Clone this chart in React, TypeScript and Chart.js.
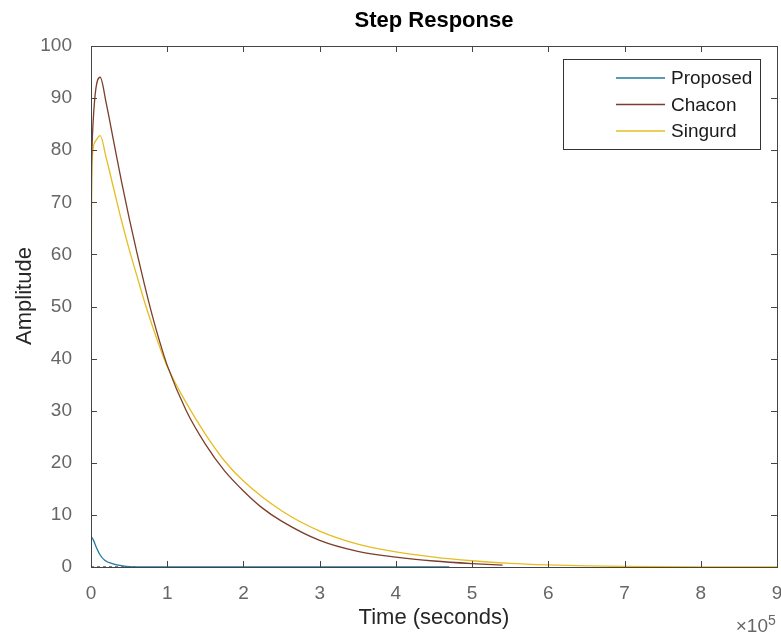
import React, { useEffect, useRef } from "react";
import { Chart, registerables } from "chart.js";

Chart.register(...registerables);

// time in units of 10^5 seconds
const proposedT = [0, 0.03, 0.075, 0.12, 0.18, 0.29, 0.42, 0.5, 0.6, 1, 2, 3, 4, 4.7];
const proposedV = [5.9, 5.2, 3.6, 2.3, 1.3, 0.6, 0.2, 0.05, 0, 0, 0, 0, 0, 0];

const chaconT = [0, 0.005, 0.012, 0.05, 0.12, 0.2, 0.3, 0.4, 0.5, 0.6, 0.7, 0.8, 0.9, 1.0, 1.25, 1.5, 1.75, 2.0, 2.25, 2.5, 3.0, 3.5, 4.0, 4.5, 5.0, 5.4];
const chaconV = [0, 70, 80, 90, 94, 89, 81.5, 74, 67, 60.5, 54.3, 48.5, 43.3, 38.7, 30, 23.6, 18.5, 14.6, 11.3, 8.8, 5.1, 3.0, 1.9, 1.15, 0.65, 0.35];

const singurdT = [0, 0.005, 0.015, 0.05, 0.12, 0.2, 0.3, 0.4, 0.5, 0.62, 0.7, 0.8, 0.9, 1.0, 1.25, 1.5, 1.75, 2.0, 2.5, 3.0, 3.5, 4.0, 4.5, 5.0, 5.5, 6.0, 6.5, 7.0, 8.0, 9.0];
const singurdV = [0, 60, 78, 81.5, 82.8, 78.5, 72.5, 66.5, 61, 55, 51, 46.5, 42.3, 38.5, 31.5, 25.5, 20.4, 16.5, 10.8, 6.9, 4.4, 2.9, 1.9, 1.2, 0.7, 0.4, 0.2, 0.1, 0.02, 0];

const steadyT = [0, 0.58];
const steadyV = [0, 0];

const seriesLabels = ["Proposed", "Chacon", "Singurd"];
const xTickValues = [0, 1, 2, 3, 4, 5, 6, 7, 8, 9];
const yTickValues = [0, 10, 20, 30, 40, 50, 60, 70, 80, 90, 100];

const FONT = "'Liberation Sans', Arial, Helvetica, sans-serif";

const toPts = (t: number[], v: number[]) => t.map((x, i) => ({ x, y: v[i] }));

const framePlugin = {
  id: "frame",
  afterDraw(chart: any) {
    const { ctx, chartArea } = chart;
    const { left, right, top, bottom } = chartArea;
    const xs = chart.scales.x;
    const ys = chart.scales.y;
    ctx.save();
    ctx.strokeStyle = "#444444";
    ctx.lineWidth = 1;
    ctx.strokeRect(Math.round(left) + 0.5, Math.round(top) + 0.5, Math.round(right - left), Math.round(bottom - top));
    const tl = 6;
    ctx.beginPath();
    xTickValues.forEach((v) => {
      const px = Math.round(xs.getPixelForValue(v)) + 0.5;
      ctx.moveTo(px, bottom);
      ctx.lineTo(px, bottom - tl);
      ctx.moveTo(px, top);
      ctx.lineTo(px, top + tl);
    });
    yTickValues.forEach((v) => {
      const py = Math.round(ys.getPixelForValue(v)) + 0.5;
      ctx.moveTo(left, py);
      ctx.lineTo(left + tl, py);
      ctx.moveTo(right, py);
      ctx.lineTo(right - tl, py);
    });
    ctx.stroke();

    // title centered over axes
    ctx.fillStyle = "#000000";
    ctx.font = `bold 22px ${FONT}`;
    ctx.textAlign = "center";
    ctx.textBaseline = "middle";
    ctx.fillText("Step Response", (left + right) / 2, 21);

    // y axis title
    ctx.save();
    ctx.translate(25, 296);
    ctx.rotate(-Math.PI / 2);
    ctx.fillStyle = "#262626";
    ctx.font = `22px ${FONT}`;
    ctx.textAlign = "center";
    ctx.textBaseline = "middle";
    ctx.fillText("Amplitude", 0, 0);
    ctx.restore();

    // exponent label
    ctx.fillStyle = "#666666";
    ctx.font = `19px ${FONT}`;
    ctx.textAlign = "right";
    ctx.textBaseline = "alphabetic";
    ctx.fillText("\u00d710", 768, 632);
    ctx.font = `14px ${FONT}`;
    ctx.textAlign = "left";
    ctx.fillText("5", 768, 625);

    // legend
    const lx = 563, ly = 59, lw = 197, lh = 90;
    ctx.fillStyle = "#ffffff";
    ctx.fillRect(lx, ly, lw, lh);
    ctx.strokeStyle = "#333333";
    ctx.strokeRect(lx + 0.5, ly + 0.5, lw, lh);
    ctx.font = `19px ${FONT}`;
    ctx.textBaseline = "middle";
    ctx.textAlign = "left";
    for (let i = 0; i < 3; i++) {
      const ds = chart.data.datasets[i];
      const y = 78 + i * 26.5;
      ctx.strokeStyle = ds.borderColor;
      ctx.lineWidth = 1.3;
      ctx.beginPath();
      ctx.moveTo(616, y);
      ctx.lineTo(665, y);
      ctx.stroke();
      ctx.fillStyle = "#1a1a1a";
      ctx.fillText(ds.label, 671, y + 1);
    }
    ctx.restore();
  },
};

export default function App() {
  const ref = useRef<HTMLCanvasElement | null>(null);
  useEffect(() => {
    if (!ref.current) return;
    const chart = new Chart(ref.current, {
      type: "line",
      data: {
        datasets: [
          { label: seriesLabels[0], data: toPts(proposedT, proposedV), borderColor: "#1f7a9e", borderWidth: 1.3, pointRadius: 0, cubicInterpolationMode: "monotone" },
          { label: seriesLabels[1], data: toPts(chaconT, chaconV), borderColor: "#7a3e2a", borderWidth: 1.3, pointRadius: 0, cubicInterpolationMode: "monotone" },
          { label: seriesLabels[2], data: toPts(singurdT, singurdV), borderColor: "#e6bd22", borderWidth: 1.3, pointRadius: 0, cubicInterpolationMode: "monotone" },
          { label: "", data: toPts(steadyT, steadyV), borderColor: "#000000", borderWidth: 1, borderDash: [3, 3], pointRadius: 0 },
        ],
      },
      options: {
        animation: false,
        responsive: false,
        layout: { padding: { top: 46, right: 4, left: 0, bottom: 0 } },
        plugins: { legend: { display: false }, title: { display: false }, tooltip: { enabled: false } },
        scales: {
          x: {
            type: "linear",
            min: 0,
            max: 9,
            grid: { display: false },
            border: { display: false },
            ticks: { stepSize: 1, color: "#666666", font: { family: FONT, size: 19 }, padding: 7 },
            title: { display: true, text: "Time (seconds)", color: "#262626", font: { family: FONT, size: 22 }, padding: { top: 0, bottom: 5 } },
            afterFit: (s: any) => { s.height = 69; s.paddingLeft = 0; s.paddingRight = 0; },
          },
          y: {
            type: "linear",
            min: 0,
            max: 100,
            grid: { display: false },
            border: { display: false },
            ticks: { stepSize: 10, color: "#666666", font: { family: FONT, size: 19 }, padding: 11 },
            title: { display: false },
            afterFit: (s: any) => { s.width = 91; s.paddingTop = 0; s.paddingBottom = 0; },
          },
        },
      },
      plugins: [framePlugin],
    });
    return () => chart.destroy();
  }, []);
  return (
    <div style={{ position: "fixed", left: 0, top: 0, width: 781, height: 636, background: "#fff" }}>
      <canvas ref={ref} width={781} height={636} />
    </div>
  );
}
